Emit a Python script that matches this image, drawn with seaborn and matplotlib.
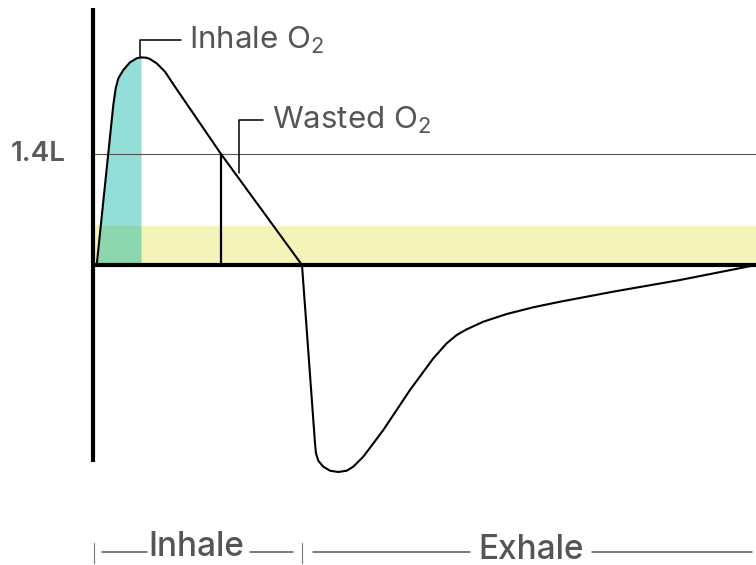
import numpy as np
import pandas as pd
import matplotlib
matplotlib.use('Agg')
from matplotlib import pyplot as plt
import seaborn as sns

# breath cycle: time (s) / volume (L)
inhale_t = [0.037, 0.203, 0.227, 0.253, 0.303, 0.37, 0.437, 0.48,
            0.53, 0.57, 0.637, 0.72, 0.82, 1.28, 2.09]
inhale_v = [0.0, 2.018, 2.228, 2.354, 2.459, 2.556, 2.607, 2.618,
            2.615, 2.598, 2.543, 2.438, 2.248, 1.40, 0.0]
exhale_t = [2.22, 2.23, 2.253, 2.303, 2.37, 2.453, 2.537, 2.603, 2.703,
            2.903, 3.17, 3.403, 3.537, 3.637, 3.737, 3.903, 4.137, 4.403,
            4.67, 5.203, 5.87, 6.63]
exhale_v = [-2.248, -2.375, -2.468, -2.543, -2.594, -2.610, -2.594, -2.543,
            -2.417, -2.081, -1.576, -1.177, -0.987, -0.883, -0.811, -0.715,
            -0.618, -0.533, -0.463, -0.336, -0.189, 0.0]
peak_t = 0.48          # end of inhale O2
wasted_t = 1.28        # point where 1.4L is reached
tidal_mark = 1.4
dead_space = 0.49
inhale_end = 2.09
cycle_end = 6.63

df = pd.DataFrame({'t': inhale_t + exhale_t, 'v': inhale_v + exhale_v})

sns.set_theme(style='white')
plt.rcParams['font.family'] = ['Inter', 'DejaVu Sans']
plt.rcParams['mathtext.fontset'] = 'custom'
plt.rcParams['mathtext.rm'] = 'Inter'

grey = '#555555'

f = plt.figure(figsize=(7.56, 5.65), dpi=100)
ax = f.add_axes([0, 0, 1, 1])
ax.set_xlim(-0.93, 6.63)
ax.set_ylim(-3.783, 3.342)
ax.axis('off')

# yellow dead-space band
ax.fill_between([0, cycle_end], 0, dead_space, color='#f5f4b8', lw=0, zorder=1)
# teal inhale O2 area
k = inhale_t.index(peak_t) + 1
ax.fill_between(inhale_t[:k], 0, inhale_v[:k], color='#0ab4a2', alpha=0.44,
                lw=0, zorder=2)

# reference line 1.4L
ax.plot([0, cycle_end], [tidal_mark, tidal_mark], color=grey, lw=0.8, zorder=3)
ax.text(-0.545, tidal_mark, '1.4L', ha='center', va='center', color='#5a5a5a',
        fontsize=20, fontweight='semibold')

sns.lineplot(data=df, x='t', y='v', ax=ax, color='black', lw=1.5,
             estimator=None, sort=False, zorder=5)
# wasted O2 marker
ax.plot([wasted_t, wasted_t], [0, tidal_mark], color='black', lw=1.6, zorder=5)

# axes
ax.plot([0, cycle_end], [0, 0], color='black', lw=3, zorder=6,
        solid_capstyle='butt')
ax.plot([-0.005, -0.005], [3.24, -2.48], color='black', lw=3, zorder=6,
        solid_capstyle='butt')

# callouts
ax.plot([peak_t - 0.01, peak_t - 0.01, 0.88], [2.62, 2.837, 2.837],
        color='black', lw=1.1, zorder=4)
ax.text(0.955, 2.837, r'Inhale O$_\mathrm{2}$', ha='left', va='center',
        color=grey, fontsize=22.5)
ax.plot([1.46, 1.46, 1.70], [1.16, 1.829, 1.829], color='black', lw=1.1,
        zorder=4)
ax.text(1.79, 1.829, r'Wasted O$_\mathrm{2}$', ha='left', va='center',
        color=grey, fontsize=22.5)

# phase brackets at the bottom
yb = -3.619
for x0 in [0.01, inhale_end]:
    ax.plot([x0, x0], [-3.506, -3.758], color='#777777', lw=0.8)
for x0, x1 in [(0.09, 0.54), (1.57, 2.00), (2.20, 3.77), (4.99, 6.59)]:
    ax.plot([x0, x1], [yb, yb], color=grey, lw=1.1)
ax.text(1.03, -3.56, 'Inhale', ha='center', va='center', color=grey,
        fontsize=24, fontweight='medium')
ax.text(4.38, -3.60, 'Exhale', ha='center', va='center', color=grey,
        fontsize=24, fontweight='medium')

f.savefig('out.png', dpi=100)
